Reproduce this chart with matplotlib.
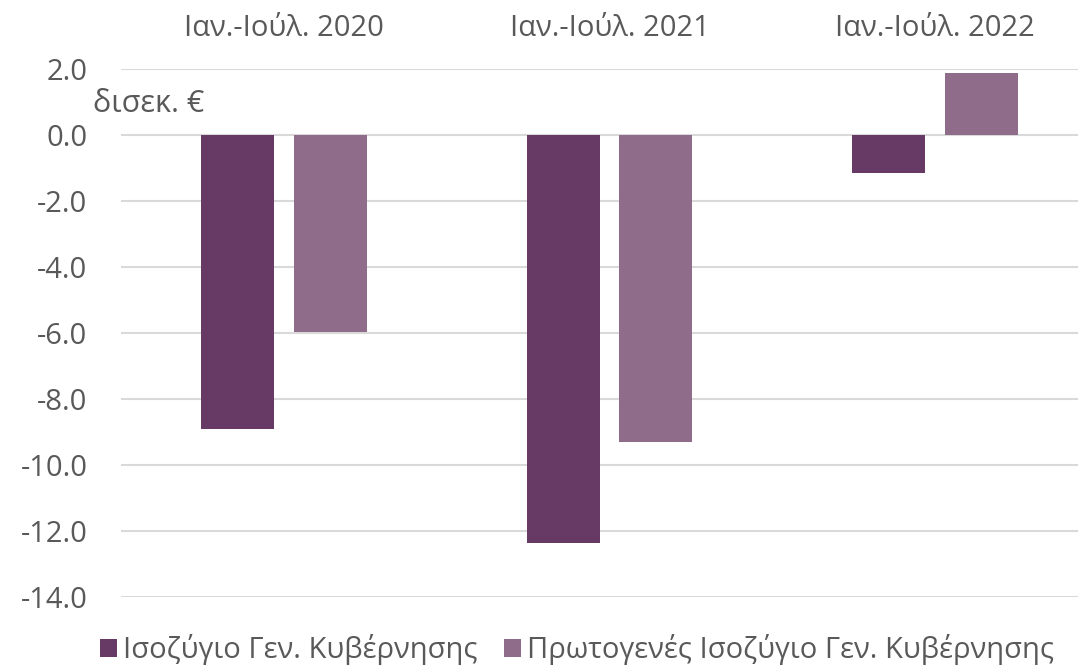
import numpy as np
import matplotlib.pyplot as plt

plt.rcParams['font.family'] = ['Open Sans', 'DejaVu Sans']

# Data (billion euro)
periods = ['Ιαν.-Ιούλ. 2020', 'Ιαν.-Ιούλ. 2021', 'Ιαν.-Ιούλ. 2022']
general_balance = [-8.9, -12.37, -1.14]
primary_balance = [-5.96, -9.3, 1.88]
series_names = ['Ισοζύγιο Γεν. Κυβέρνησης', 'Πρωτογενές Ισοζύγιο Γεν. Κυβέρνησης']

dark = '#673965'
light = '#8e6c8a'
grey = '#595959'

fig = plt.figure(figsize=(10.78, 6.68), dpi=100)
ax = fig.add_axes([0.1122, 0.1063, 0.8878, 0.7904])

x = np.arange(len(periods))
w = 0.224
off = 0.142
b1 = ax.bar(x - off, general_balance, w, color=dark, label=series_names[0], zorder=3)
b2 = ax.bar(x + off, primary_balance, w, color=light, label=series_names[1], zorder=3)

ax.set_ylim(-14, 2)
ax.set_xlim(-0.5006, 2.4386)
ax.set_yticks(np.arange(-14, 2.1, 2))
ax.set_yticklabels([f'{v:.1f}' for v in np.arange(-14, 2.1, 2)])
ax.yaxis.grid(True, color='#d9d9d9', linewidth=1.5, zorder=0)
ax.set_axisbelow(True)

ax.xaxis.tick_top()
ax.set_xticks(x)
ax.set_xticklabels(periods)
ax.tick_params(axis='x', length=0, pad=19, labelsize=21, colors=grey)
ax.tick_params(axis='y', length=0, pad=24, labelsize=21, colors=grey)
for s in ax.spines.values():
    s.set_visible(False)

fig.text(0.086, 0.845, 'δισεκ. €', fontsize=22, color=grey, va='center', ha='left')

leg = fig.legend(handles=[b1, b2], loc='center', bbox_to_anchor=(0.535, 0.027),
                 ncol=2, frameon=False, fontsize=21, handlelength=0.6, handleheight=0.6,
                 handletextpad=0.2, columnspacing=0.9, labelcolor=grey)

fig.savefig('out.png', dpi=100)
